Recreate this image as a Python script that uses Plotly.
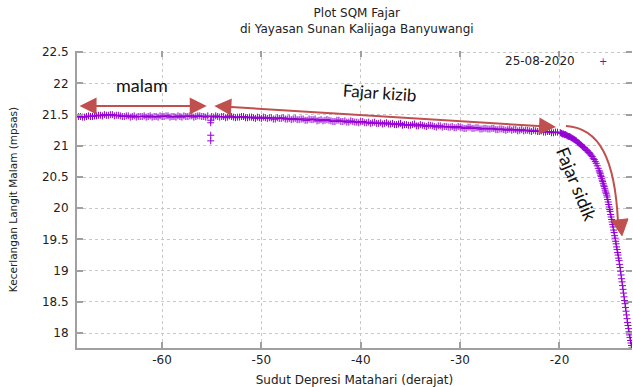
import plotly.graph_objects as go

# ---------------- data ----------------
night_x = [-68.6, -68.2, -67.8, -67.4, -67.0, -66.6, -66.2, -65.8, -65.4, -65.0,
           -64.6, -64.2, -63.8, -63.4, -63.0, -62.6, -62.2, -61.8, -61.4, -61.0,
           -60.6, -60.2, -59.8, -59.4, -59.0, -58.6, -58.2, -57.8, -57.4, -57.0,
           -56.6, -56.2, -55.8, -55.4]
night_y = [21.46, 21.47, 21.46, 21.48, 21.47, 21.48, 21.49, 21.50, 21.49, 21.50,
           21.49, 21.48, 21.47, 21.48, 21.47, 21.46, 21.47, 21.48, 21.47, 21.46,
           21.47, 21.48, 21.47, 21.48, 21.47, 21.46, 21.47, 21.48, 21.47, 21.48,
           21.47, 21.48, 21.47, 21.48]
night2_x = [-68.4, -68.0, -67.6, -67.2, -66.8, -66.4, -66.0, -65.6, -65.2, -64.8,
            -64.4, -64.0, -63.6, -63.2, -62.8, -62.4, -62.0, -61.6, -61.2, -60.8,
            -60.4, -60.0, -59.6, -59.2, -58.8, -58.4, -58.0, -57.6, -57.2, -56.8,
            -56.4, -56.0, -55.6]
night2_y = [21.47, 21.46, 21.47, 21.47, 21.48, 21.49, 21.48, 21.49, 21.50, 21.48,
            21.49, 21.47, 21.48, 21.46, 21.48, 21.47, 21.47, 21.46, 21.48, 21.47,
            21.46, 21.47, 21.48, 21.46, 21.47, 21.48, 21.46, 21.47, 21.48, 21.46,
            21.48, 21.47, 21.46]

outlier_x = [-55.1, -55.1, -55.1, -55.1]
outlier_y = [21.41, 21.37, 21.17, 21.08]

slow_x = [-55.0, -54.6, -54.2, -53.8, -53.4, -53.0, -52.6, -52.2, -51.8, -51.4,
          -51.0, -50.6, -50.2, -49.8, -49.4, -49.0, -48.6, -48.2, -47.8, -47.4,
          -47.0, -46.6, -46.2, -45.8, -45.4, -45.0, -44.6, -44.2, -43.8, -43.4,
          -43.0, -42.6, -42.2, -41.8, -41.4, -41.0, -40.6, -40.2, -39.8, -39.4,
          -39.0, -38.6, -38.2, -37.8, -37.4, -37.0, -36.6, -36.2, -35.8, -35.4,
          -35.0, -34.6, -34.2, -33.8, -33.4, -33.0, -32.6, -32.2, -31.8, -31.4,
          -31.0, -30.6, -30.2, -29.8, -29.4, -29.0, -28.6, -28.2, -27.8, -27.4,
          -27.0, -26.6, -26.2, -25.8, -25.4, -25.0, -24.6, -24.2, -23.8, -23.4,
          -23.0, -22.6, -22.2, -21.8, -21.4, -21.0, -20.6, -20.2]
slow_y = [21.47, 21.48, 21.46, 21.47, 21.46, 21.47, 21.45, 21.46, 21.47, 21.45,
          21.46, 21.44, 21.45, 21.46, 21.44, 21.45, 21.43, 21.44, 21.45, 21.43,
          21.42, 21.44, 21.42, 21.43, 21.41, 21.42, 21.43, 21.41, 21.40, 21.42,
          21.40, 21.39, 21.41, 21.39, 21.38, 21.40, 21.38, 21.37, 21.39, 21.37,
          21.36, 21.38, 21.36, 21.35, 21.37, 21.35, 21.34, 21.35, 21.33, 21.34,
          21.33, 21.35, 21.32, 21.33, 21.31, 21.33, 21.31, 21.32, 21.30, 21.31,
          21.30, 21.29, 21.31, 21.29, 21.28, 21.30, 21.28, 21.29, 21.27, 21.28,
          21.27, 21.28, 21.26, 21.27, 21.25, 21.27, 21.26, 21.24, 21.26, 21.25,
          21.24, 21.25, 21.23, 21.24, 21.22, 21.23, 21.21, 21.22]
slow2_x = [-54.8, -54.4, -54.0, -53.6, -53.2, -52.8, -52.4, -52.0, -51.6, -51.2,
           -50.8, -50.4, -50.0, -49.6, -49.2, -48.8, -48.4, -48.0, -47.6, -47.2,
           -46.8, -46.4, -46.0, -45.6, -45.2, -44.8, -44.4, -44.0, -43.6, -43.2,
           -42.8, -42.4, -42.0, -41.6, -41.2, -40.8, -40.4, -40.0, -39.6, -39.2,
           -38.8, -38.4, -38.0, -37.6, -37.2, -36.8, -36.4, -36.0, -35.6, -35.2,
           -34.8, -34.4, -34.0, -33.6, -33.2, -32.8, -32.4, -32.0, -31.6, -31.2,
           -30.8, -30.4, -30.0, -29.6, -29.2, -28.8, -28.4, -28.0, -27.6, -27.2,
           -26.8, -26.4, -26.0, -25.6, -25.2, -24.8, -24.4, -24.0, -23.6, -23.2,
           -22.8, -22.4, -22.0, -21.6, -21.2, -20.8, -20.4]
slow2_y = [21.46, 21.47, 21.47, 21.45, 21.48, 21.46, 21.46, 21.47, 21.45, 21.46,
           21.45, 21.46, 21.44, 21.45, 21.45, 21.43, 21.45, 21.44, 21.43, 21.44,
           21.43, 21.42, 21.43, 21.41, 21.43, 21.42, 21.40, 21.42, 21.41, 21.41,
           21.39, 21.41, 21.39, 21.40, 21.38, 21.39, 21.38, 21.39, 21.37, 21.38,
           21.37, 21.36, 21.37, 21.36, 21.35, 21.36, 21.34, 21.36, 21.34, 21.33,
           21.34, 21.32, 21.34, 21.32, 21.33, 21.32, 21.30, 21.32, 21.31, 21.30,
           21.31, 21.29, 21.30, 21.28, 21.30, 21.28, 21.29, 21.27, 21.28, 21.27,
           21.28, 21.26, 21.27, 21.26, 21.26, 21.25, 21.26, 21.25, 21.24, 21.25,
           21.23, 21.24, 21.23, 21.22, 21.23, 21.21, 21.22]

bend_x = [-19.8, -19.6, -19.4, -19.2, -19.0, -18.8, -18.6, -18.4, -18.2, -18.0,
          -17.8, -17.6, -17.4, -17.2, -17.0, -16.8, -16.6, -16.4, -16.2]
bend_y = [21.20, 21.19, 21.18, 21.16, 21.15, 21.13, 21.11, 21.09, 21.06, 21.04,
          21.01, 20.98, 20.95, 20.92, 20.89, 20.85, 20.80, 20.75, 20.68]
bend2_x = [-19.9, -19.7, -19.5, -19.3, -19.1, -18.9, -18.7, -18.5, -18.3, -18.1,
           -17.9, -17.7, -17.5, -17.3, -17.1, -16.9, -16.7, -16.5, -16.3, -16.1]
bend2_y = [21.21, 21.19, 21.18, 21.17, 21.15, 21.14, 21.12, 21.10, 21.08, 21.05,
           21.02, 20.99, 20.97, 20.93, 20.90, 20.87, 20.83, 20.78, 20.72, 20.64]

steep_x = [-16.0, -15.9, -15.8, -15.7, -15.6, -15.5, -15.4, -15.3, -15.2, -15.1,
           -15.0, -14.9, -14.8, -14.7, -14.6, -14.5, -14.4, -14.3, -14.2, -14.1,
           -14.0, -13.9, -13.8, -13.7, -13.6, -13.5, -13.4, -13.3, -13.2, -13.1,
           -13.0, -12.9, -12.8, -12.7]
steep_y = [20.60, 20.56, 20.51, 20.45, 20.40, 20.35, 20.29, 20.24, 20.18, 20.10,
           20.02, 19.95, 19.86, 19.78, 19.70, 19.61, 19.52, 19.43, 19.34, 19.25,
           19.16, 19.05, 18.93, 18.82, 18.70, 18.58, 18.47, 18.35, 18.23, 18.12,
           18.02, 17.93, 17.84, 17.76]
steep2_x = [-15.95, -15.85, -15.75, -15.65, -15.55, -15.45, -15.35, -15.25, -15.15,
            -15.05, -14.95, -14.85, -14.75, -14.65, -14.55, -14.45, -14.35, -14.25,
            -14.15, -14.05, -13.95, -13.85, -13.75, -13.65, -13.55, -13.45, -13.35,
            -13.25, -13.15, -13.05, -12.95, -12.85, -12.75]
steep2_y = [20.58, 20.53, 20.48, 20.43, 20.37, 20.32, 20.26, 20.21, 20.14,
            20.06, 19.98, 19.90, 19.82, 19.74, 19.65, 19.56, 19.47, 19.38,
            19.29, 19.20, 19.10, 18.99, 18.87, 18.76, 18.64, 18.52, 18.41,
            18.29, 18.17, 18.07, 17.97, 17.88, 17.80]

sun_depression = (night_x + night2_x + outlier_x + slow_x + slow2_x
                  + bend_x + bend2_x + steep_x + steep2_x)
sky_brightness = (night_y + night2_y + outlier_y + slow_y + slow2_y
                  + bend_y + bend2_y + steep_y + steep2_y)

series_name = "25-08-2020"
x_ticks = [-60, -50, -40, -30, -20]
x_tick_labels = ["-60", "-50", "-40", "-30", "-20"]
y_ticks = [18, 18.5, 19, 19.5, 20, 20.5, 21, 21.5, 22, 22.5]
y_tick_labels = ["18", "18.5", "19", "19.5", "20", "20.5", "21", "21.5", "22", "22.5"]
x_range = [-68.56, -12.7]
y_range = [17.76, 22.52]

# ---------------- styles ----------------
PURPLE = "#9400D3"
RED = "#C0504D"
AXIS_GREY = "#a0a0a0"
GRID_GREY = "#c8c8c8"
FONT = "DejaVu Sans"
TEXT = "#222222"

fig = go.Figure()
fig.add_trace(go.Scatter(
    x=sun_depression, y=sky_brightness, mode="markers", name=series_name,
    showlegend=False,
    marker=dict(symbol="cross-thin", size=5, color=PURPLE,
                line=dict(color=PURPLE, width=1)),
))
# empty trace that carries the mirrored tick axes (top / right)
fig.add_trace(go.Scatter(x=[], y=[], xaxis="x2", yaxis="y2",
                         showlegend=False, hoverinfo="skip"))

fig.update_layout(
    width=633, height=387,
    margin=dict(l=77, r=1, t=51, b=39, autoexpand=False),
    paper_bgcolor="white", plot_bgcolor="white",
    font=dict(family=FONT, size=12, color=TEXT),
    xaxis=dict(range=x_range, tickvals=x_ticks, ticktext=x_tick_labels,
               ticks="inside", ticklen=6, tickcolor=AXIS_GREY, tickwidth=1.5,
               showline=True, linecolor=AXIS_GREY, linewidth=2,
               showgrid=True, gridcolor=GRID_GREY, griddash="dot", gridwidth=1,
               zeroline=False, automargin=False,
               title=dict(text="Sudut Depresi Matahari (derajat)", standoff=10,
                          font=dict(size=12))),
    yaxis=dict(range=y_range, tickvals=y_ticks, ticktext=y_tick_labels,
               ticks="inside", ticklen=6, tickcolor=AXIS_GREY, tickwidth=1.5,
               showline=True, linecolor=AXIS_GREY, linewidth=2,
               showgrid=True, gridcolor=GRID_GREY, griddash="dot", gridwidth=1,
               zeroline=False, ticklabelstandoff=4, automargin=False,
               title=dict(text="Kecerlangan Langit Malam (mpsas)", standoff=22,
                          font=dict(size=10.5))),
    xaxis2=dict(overlaying="x", matches="x", side="top", range=x_range,
                tickvals=x_ticks, ticks="inside", ticklen=6, tickcolor=AXIS_GREY,
                tickwidth=1.5, showticklabels=False, showline=False,
                showgrid=False, zeroline=False, automargin=False),
    yaxis2=dict(overlaying="y", matches="y", side="right", range=y_range,
                tickvals=y_ticks, ticks="inside", ticklen=6, tickcolor=AXIS_GREY,
                tickwidth=1.5, showticklabels=False, showline=False,
                showgrid=False, zeroline=False, automargin=False),
)

# two-line title (gnuplot style)
fig.add_annotation(xref="paper", yref="paper", x=0.5045, y=1.101,
                   xanchor="center", yanchor="middle", showarrow=False,
                   text="Plot SQM Fajar<br>di Yayasan Sunan Kalijaga Banyuwangi",
                   font=dict(family=FONT, size=12, color=TEXT))

# legend-like key (text followed by the point symbol, as gnuplot draws it)
fig.add_annotation(xref="paper", yref="paper", x=0.901, y=0.966,
                   xanchor="right", yanchor="middle", showarrow=False,
                   text=series_name, font=dict(family=FONT, size=12, color=TEXT))
fig.add_annotation(xref="paper", yref="paper", x=0.948, y=0.966,
                   xanchor="center", yanchor="middle", showarrow=False,
                   text="+", font=dict(family=FONT, size=10, color=PURPLE))

# red hand-drawn style arrows
for tip_x, tip_y, tail_x, tail_y in [(-55.5, 21.64, -68.45, 21.64),
                                     (-20.35, 21.30, -54.89, 21.64)]:
    fig.add_annotation(x=tip_x, y=tip_y, ax=tail_x, ay=tail_y, xref="x", yref="y",
                       axref="x", ayref="y", text="", showarrow=True,
                       arrowhead=2, startarrowhead=2, arrowside="end+start",
                       arrowsize=1.7, startarrowsize=1.7, arrowwidth=2,
                       arrowcolor=RED, standoff=0, startstandoff=0)
fig.add_shape(type="path", xref="x", yref="y",
              path="M -19.35,21.318 C -15.92,21.286 -14.41,20.775 -14.11,19.784",
              line=dict(color=RED, width=2))
fig.add_shape(type="path", xref="x", yref="y",
              path="M -14.75,19.80 L -13.10,19.83 L -13.71,19.56 Z",
              line=dict(color=RED, width=1), fillcolor=RED)

# hand-written labels
fig.add_annotation(x=-62.0, y=21.97, xref="x", yref="y", showarrow=False,
                   text="malam", font=dict(family="Lato", size=18, color="#111111"))
fig.add_annotation(x=-38.1, y=21.86, xref="x", yref="y", showarrow=False,
                   text="Fajar kizib", textangle=4,
                   font=dict(family="Lato", size=17, color="#111111"))
fig.add_annotation(x=-18.24, y=20.39, xref="x", yref="y", showarrow=False,
                   text="Fajar sidik", textangle=68,
                   font=dict(family="Lato", size=18, color="#111111"))

fig.write_html("out.html",
               config={"displayModeBar": False},
               post_script="document.body.style.margin='0';"
                           "document.body.style.padding='0';")
